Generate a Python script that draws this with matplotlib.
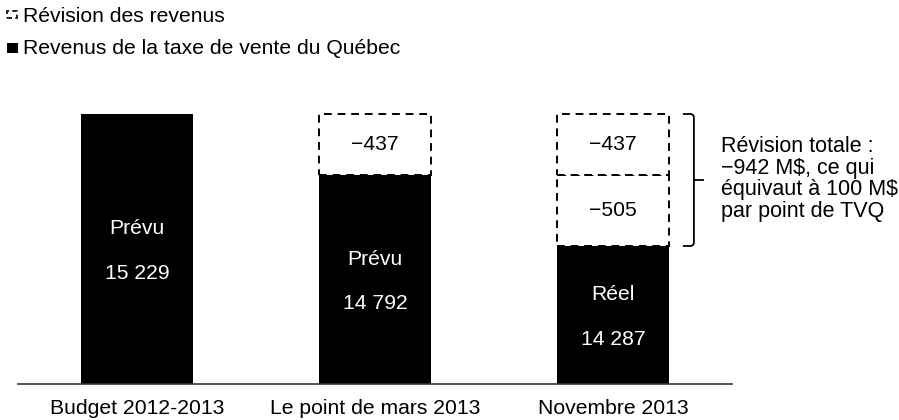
import matplotlib
matplotlib.use("Agg")
import matplotlib.pyplot as plt
from matplotlib.patches import Rectangle
from matplotlib.path import Path
from matplotlib.patches import PathPatch

plt.rcParams['font.family'] = ['Liberation Sans', 'DejaVu Sans']

# ---- data ----
categories = ["Budget 2012-2013", "Le point de mars 2013", "Novembre 2013"]
base_values = [15229, 14792, 14287]
base_labels = ["Prévu", "Prévu", "Réel"]
# revisions stacked above each base bar (bottom to top)
revisions = [[], [-437], [-505, -437]]
legend_labels = ["Révision des revenus", "Revenus de la taxe de vente du Québec"]
note_text = "Révision totale :\n−942 M$, ce qui\néquivaut à 100 M$\npar point de TVQ"
y_floor = 13302

def fmt(v):
    s = f"{abs(v):,}".replace(",", " ")
    return ("−" if v < 0 else "") + s

W, H = 899, 420
fig = plt.figure(figsize=(W / 100, H / 100), dpi=100)
ax_left, ax_right = 18 / W, 732 / W
ax_bottom, ax_top = 36 / H, 360 / H
ax = fig.add_axes([ax_left, ax_bottom, ax_right - ax_left, ax_top - ax_bottom])

px_per_unit = (384 - 114) / (base_values[0] - y_floor)
ytop = y_floor + (384 - 60) / px_per_unit
ax.set_ylim(y_floor, ytop)
ax.set_xlim(-0.5, 2.5)

bw = 0.47
fs = 15.2
xs = list(range(len(categories)))
ax.bar(xs, [v - y_floor for v in base_values], bottom=y_floor, width=bw,
       color='black', edgecolor='black', linewidth=0, zorder=2)

for x, v, lab in zip(xs, base_values, base_labels):
    mid = (v + y_floor) / 2
    ax.annotate(lab, (x, mid), xytext=(0, 14.5), textcoords='offset points',
                ha='center', va='center', color='white', fontsize=fs)
    ax.annotate(fmt(v), (x, mid), xytext=(0, -17.5), textcoords='offset points',
                ha='center', va='center', color='white', fontsize=fs)

for x, v, revs in zip(xs, base_values, revisions):
    bottom = v
    for r in revs:
        h = -r
        ax.bar(x, h, bottom=bottom, width=bw, facecolor='white', edgecolor='black',
               linestyle=(0, (4, 3)), linewidth=1.4, zorder=3)
        ax.text(x, bottom + h / 2, fmt(r), ha='center', va='center',
                fontsize=fs, color='black', zorder=4)
        bottom += h

# brace for total revision
top_v = base_values[0]
bot_v = base_values[2]
x0 = 2 + bw / 2 + 14 / 238
x1 = x0 + 11 / 238
xt = x1 + 10 / 238
ymid = (top_v + bot_v) / 2
r_y = 4 / px_per_unit
r_x = 4 / 238
verts = [(x0, top_v), (x1 - r_x, top_v), (x1, top_v), (x1, top_v - r_y),
         (x1, ymid), (xt, ymid), (x1, ymid), (x1, bot_v + r_y), (x1, bot_v),
         (x1 - r_x, bot_v), (x0, bot_v)]
codes = [Path.MOVETO, Path.LINETO, Path.CURVE3, Path.CURVE3,
         Path.LINETO, Path.LINETO, Path.MOVETO, Path.LINETO, Path.CURVE3,
         Path.CURVE3, Path.LINETO]
ax.add_patch(PathPatch(Path(verts, codes), facecolor='none', edgecolor='black',
                       linewidth=1.3, clip_on=False))
ax.text(721 / W, 1 - 179 / H, note_text, transform=fig.transFigure,
        ha='left', va='center', fontsize=15.5, linespacing=1.03)

# axes styling
for s in ['top', 'right', 'left']:
    ax.spines[s].set_visible(False)
ax.spines['bottom'].set_color('#333333')
ax.spines['bottom'].set_linewidth(1.2)
ax.set_yticks([])
ax.set_xticks(xs)
ax.set_xticklabels(categories, fontsize=fs)
ax.tick_params(axis='x', length=0, pad=11)

# legend (manual)
fig.patches.append(Rectangle((7 / W, 1 - 18 / H), 10 / W, 7 / H, transform=fig.transFigure,
                             facecolor='white', edgecolor='black', linestyle=(0, (3, 2)),
                             linewidth=1.2))
fig.text(23 / W, 1 - 16 / H, legend_labels[0], ha='left', va='center', fontsize=fs)
fig.patches.append(Rectangle((7 / W, 1 - 53 / H), 11 / W, 10 / H, transform=fig.transFigure,
                             facecolor='black', edgecolor='black', linewidth=0))
fig.text(23 / W, 1 - 48 / H, legend_labels[1], ha='left', va='center', fontsize=fs)

fig.savefig("out.png", dpi=100)
